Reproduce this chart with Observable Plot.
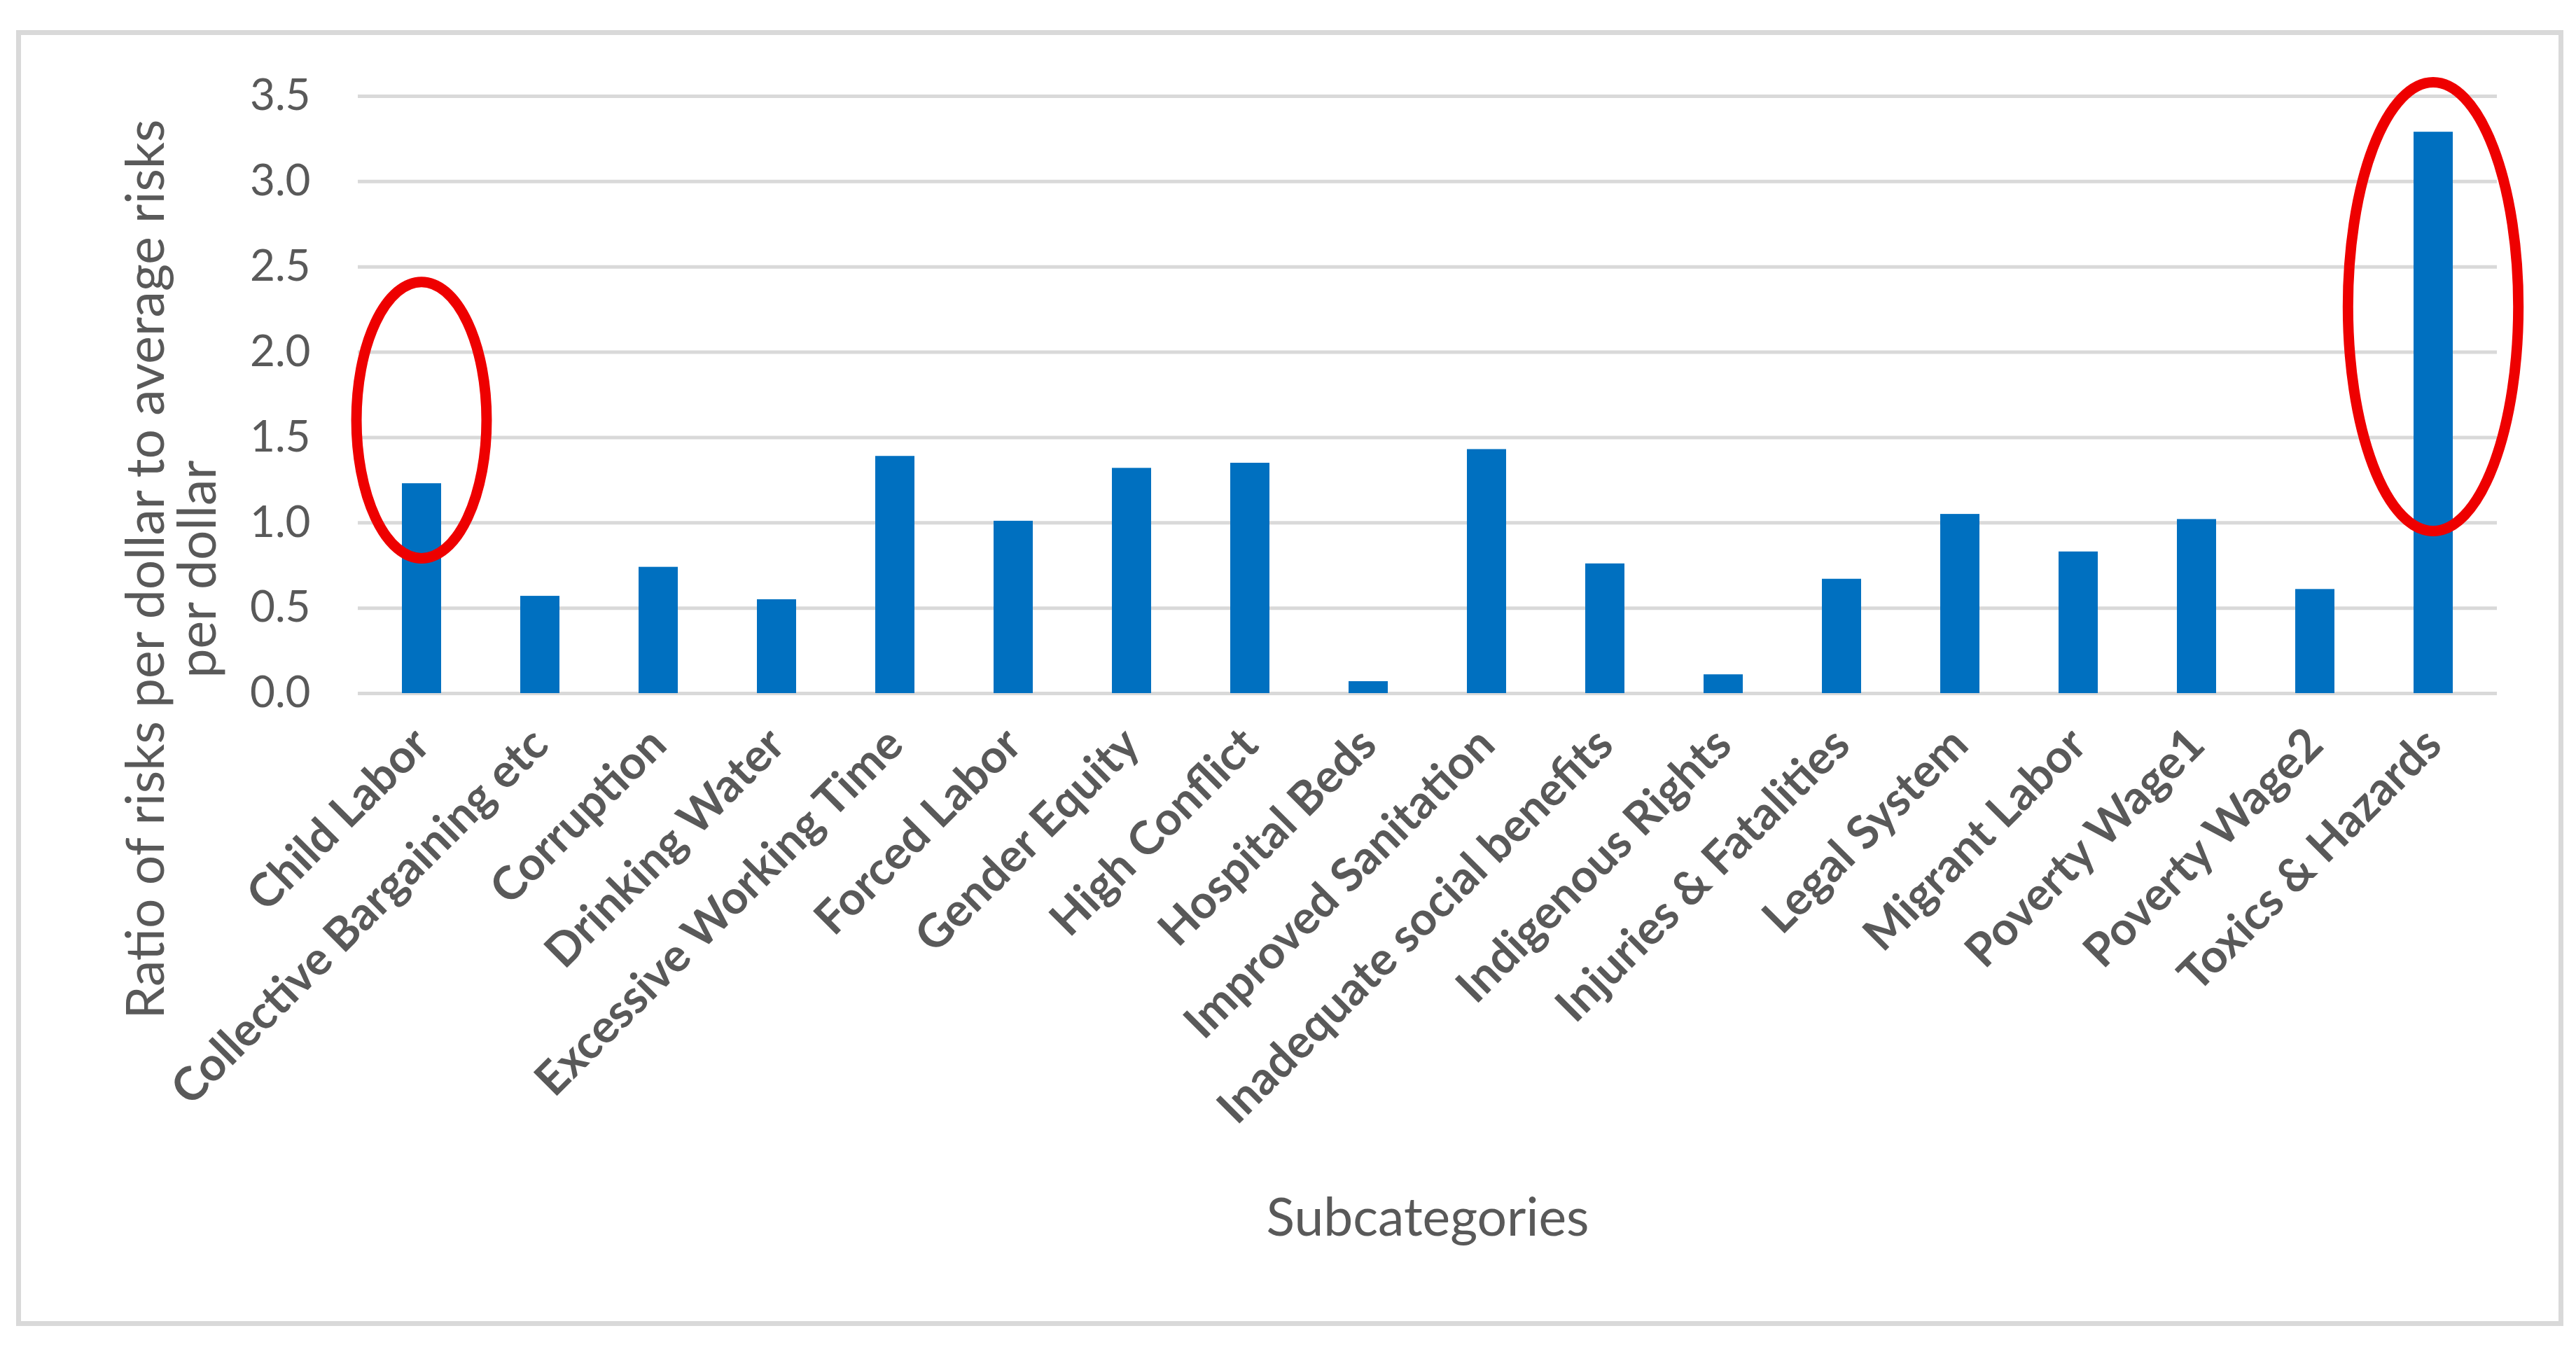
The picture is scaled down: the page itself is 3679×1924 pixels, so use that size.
<!DOCTYPE html>
<html><head><meta charset="utf-8">
<script src="https://cdn.jsdelivr.net/npm/d3@7"></script>
<script src="https://cdn.jsdelivr.net/npm/@observablehq/plot@0.6"></script>
<style>
html,body{margin:0;padding:0;background:#fff;overflow:hidden}
#wrap{position:relative;width:3679px;height:1924px}
#border{position:absolute;left:23px;top:43px;width:3638px;height:1851px;box-sizing:border-box;border:7px solid #d9d9d9;pointer-events:none}
</style></head><body><div id="wrap"><div id="border"></div></div>
<script>
const categories = ["Child Labor","Collective Bargaining etc","Corruption","Drinking Water","Excessive Working Time","Forced Labor","Gender Equity","High Conflict","Hospital Beds","Improved Sanitation","Inadequate social benefits","Indigenous Rights","Injuries & Fatalities","Legal System","Migrant Labor","Poverty Wage1","Poverty Wage2","Toxics & Hazards"];
const values = [1.23,0.57,0.74,0.55,1.39,1.01,1.32,1.35,0.07,1.43,0.76,0.11,0.67,1.05,0.83,1.02,0.61,3.29];
const yTicks = [0,0.5,1.0,1.5,2.0,2.5,3.0,3.5];
const yTitle = "Ratio of risks per dollar to average risks\nper dollar";
const xTitle = "Subcategories";
const highlightCats = ["Child Labor","Toxics & Hazards"];
const highlightLow = [0.79,0.95];
const highlightHigh = [2.41,3.58];
const highlightHalfWidth = [0.55,0.72];

const data = categories.map((c,i)=>({category:c, value:values[i]}));
const highlights = highlightCats.map((c,i)=>({category:c, lo:highlightLow[i], hi:highlightHigh[i], hw:highlightHalfWidth[i], mid:(highlightLow[i]+highlightHigh[i])/2}));

const PAD = 0.67;
function ellipseRender(index, scales, vals, dimensions, context) {
  const sx = scales.x, sy = scales.y;
  const bw = typeof sx.bandwidth === "function" ? sx.bandwidth() : sx.bandwidth;
  let step = typeof sx.step === "function" ? sx.step() : sx.step;
  if (!step) step = bw / (1 - PAD);
  const g = d3.create("svg:g");
  for (const i of index) {
    const d = highlights[i];
    const cx = sx(d.category) + bw/2;
    const y1 = sy(d.hi), y2 = sy(d.lo);
    g.append("ellipse")
      .attr("cx", cx).attr("cy", (y1+y2)/2)
      .attr("rx", d.hw*step).attr("ry", Math.abs(y2-y1)/2)
      .attr("fill","none").attr("stroke","#ee0000").attr("stroke-width",15);
  }
  return g.node();
}

const chart = Plot.plot({
  width: 3679, height: 1924,
  marginLeft: 511, marginRight: 113, marginTop: 137, marginBottom: 934,
  style: {fontFamily: "Lato, 'Open Sans', sans-serif", background: "transparent", color: "#595959"},
  x: {domain: categories, paddingInner: PAD, paddingOuter: PAD/2, label: null},
  y: {domain: [0, 3.5], label: null},
  marks: [
    Plot.ruleY(yTicks, {stroke: "#d9d9d9", strokeWidth: 5}),
    Plot.barY(data, {x: "category", y: "value", fill: "#0070c0"}),
    Plot.axisY({ticks: yTicks, tickFormat: d => d.toFixed(1), tickSize: 0, tickPadding: 68, fontSize: 62, label: null}),
    Plot.axisX({tickRotate: -45, tickSize: 0, tickPadding: 62, fontSize: 66, fontWeight: "bold", label: null}),
    Plot.dot(highlights, {x: "category", y: "mid", render: ellipseRender}),
    Plot.text([yTitle], {frameAnchor: "left", text: d => d, rotate: -90, dx: -264, dy: 249, fontSize: 75, lineHeight: 0.99, textAnchor: "middle", lineAnchor: "middle", fill: "#595959"}),
    Plot.text([xTitle], {frameAnchor: "bottom", text: d => d, dy: 750, fontSize: 75, textAnchor: "middle", lineAnchor: "middle", fill: "#595959"})
  ]
});
chart.style.position = "absolute";
chart.style.left = "0"; chart.style.top = "0";
document.getElementById("wrap").prepend(chart);
</script>
</body></html>
